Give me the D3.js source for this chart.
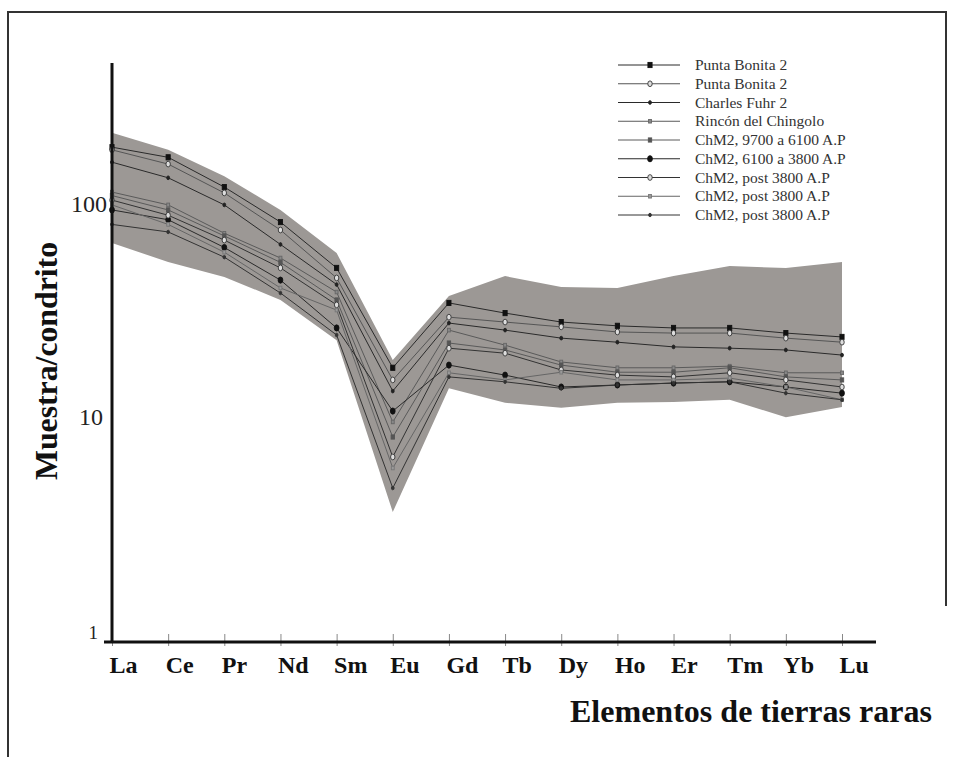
<!DOCTYPE html>
<html>
<head>
<meta charset="utf-8">
<script src="https://cdn.jsdelivr.net/npm/d3@7"></script>
<style>
  html, body { margin: 0; padding: 0; background: #fff; }
  svg { display: block; }
</style>
</head>
<body>
<script>
// ---------- DATA ----------
const elements = ["La","Ce","Pr","Nd","Sm","Eu","Gd","Tb","Dy","Ho","Er","Tm","Yb","Lu"];
const yTickValues = [1, 10, 100];

const seriesNames = [
  "Punta Bonita 2",
  "Punta Bonita 2",
  "Charles Fuhr 2",
  "Rincón del Chingolo",
  "ChM2, 9700 a 6100 A.P",
  "ChM2, 6100 a 3800 A.P",
  "ChM2, post 3800 A.P",
  "ChM2, post 3800 A.P",
  "ChM2, post 3800 A.P"
];

const puntaBonita2a   = [178, 160, 117, 81, 50, 17.5, 34.6, 31.1, 28.3, 27.2, 26.6, 26.6, 25.2, 24.2];
const puntaBonita2b   = [173, 149, 110, 74.5, 45, 15.4, 29.8, 28.3, 26.9, 25.5, 25.2, 25.2, 23.9, 22.9];
const charlesFuhr2    = [152, 129, 97, 64, 42, 13.7, 28.0, 26.0, 23.9, 22.9, 21.8, 21.5, 21.1, 20.0];
const rinconChingolo  = [111, 97, 72, 55.5, 38.8, 9.9, 26.0, 22.2, 18.6, 17.5, 17.5, 17.8, 16.6, 16.6];
const chm2_9700_6100  = [107, 92, 70, 53, 35.7, 8.45, 22.7, 21.1, 18.0, 16.7, 16.7, 17.5, 15.9, 15.4];
const chm2_6100_3800  = [92, 83, 62, 44, 26.6, 11.1, 18.0, 16.2, 14.3, 14.6, 14.9, 15.1, 14.3, 13.4];
const chm2_post3800a  = [102, 87, 67, 50, 33.9, 6.85, 21.5, 20.4, 17.1, 16.2, 15.9, 16.6, 15.4, 14.3];
const chm2_post3800b  = [97, 79, 59, 40.5, 32.1, 6.1, 16.6, 15.4, 16.7, 15.4, 15.4, 15.7, 14.3, 12.5];
const chm2_post3800c  = [79, 73, 56, 38.4, 24.7, 4.94, 15.9, 15.1, 14.1, 14.6, 14.9, 15.1, 13.4, 12.5];

const bandUpper = [207, 173, 131, 92, 58.5, 19.0, 37.2, 45.9, 40.9, 40.5, 45.9, 51, 50, 53.2];
const bandLower = [65, 53.2, 45.5, 35.7, 23.4, 3.84, 14.1, 12.1, 11.5, 12.1, 12.2, 12.5, 10.4, 11.6];

const allSeries = [puntaBonita2a, puntaBonita2b, charlesFuhr2, rinconChingolo, chm2_9700_6100,
                   chm2_6100_3800, chm2_post3800a, chm2_post3800b, chm2_post3800c];

// ---------- STYLES ----------
const styles = [
  {line:"#2a2a2a", marker:"square", fill:"#111", stroke:"#111", r:2.6},
  {line:"#555", marker:"circle", fill:"#ddd", stroke:"#333", r:2.6},
  {line:"#2a2a2a", marker:"circle", fill:"#222", stroke:"#222", r:1.7},
  {line:"#5a5a5a", marker:"square", fill:"#888", stroke:"#666", r:1.8},
  {line:"#5a5a5a", marker:"square", fill:"#555", stroke:"#555", r:2.1},
  {line:"#2a2a2a", marker:"circle", fill:"#111", stroke:"#111", r:2.8},
  {line:"#333", marker:"circle", fill:"#ddd", stroke:"#333", r:2.6},
  {line:"#666", marker:"square", fill:"#999", stroke:"#777", r:1.8},
  {line:"#333", marker:"circle", fill:"#333", stroke:"#333", r:1.6}
];

const W = 954, H = 757;
const serif = "'Liberation Serif','Times New Roman',serif";

const svg = d3.select("body").append("svg").attr("width", W).attr("height", H);
svg.append("rect").attr("width", W).attr("height", H).attr("fill", "#fff");

// frame
svg.append("path").attr("d", `M8,${H} L8,12 L946,12 L946,606`)
  .attr("fill", "none").attr("stroke", "#333").attr("stroke-width", 2);

const x = d3.scalePoint().domain(elements).range([112, 842]).padding(0);
const y = d3.scaleLog().domain([1, 1000]).range([640, -17]);

// band
const bandData = elements.map((e, i) => ({e, lo: bandLower[i], hi: bandUpper[i]}));
svg.append("path")
  .datum(bandData)
  .attr("d", d3.area().x(d => x(d.e)).y0(d => y(d.lo)).y1(d => y(d.hi)))
  .attr("fill", "#9c9895");

// series lines
const lineGen = d3.line().x((d, i) => x(elements[i])).y(d => y(d));
allSeries.forEach((s, k) => {
  svg.append("path").datum(s).attr("d", lineGen)
    .attr("fill", "none").attr("stroke", styles[k].line).attr("stroke-width", 1);
});

function drawMarker(g, cx, cy, st) {
  if (st.marker === "circle") {
    g.append("ellipse").attr("cx", cx).attr("cy", cy).attr("rx", st.r * 0.85).attr("ry", st.r * 1.1)
      .attr("fill", st.fill).attr("stroke", st.stroke).attr("stroke-width", 0.9);
  } else {
    g.append("rect").attr("x", cx - st.r * 0.8).attr("y", cy - st.r).attr("width", st.r * 1.6).attr("height", st.r * 2)
      .attr("fill", st.fill).attr("stroke", st.stroke).attr("stroke-width", 0.9);
  }
}
const mk = svg.append("g");
allSeries.forEach((s, k) => {
  s.forEach((v, i) => drawMarker(mk, x(elements[i]), y(v), styles[k]));
});

// x tick marks
svg.append("g").attr("transform", "translate(0,646)")
  .call(d3.axisTop(x).tickSize(12).tickFormat(""))
  .call(g => g.select(".domain").remove())
  .call(g => g.selectAll("line").attr("stroke", "#888").attr("stroke-width", 1));

// x tick labels
svg.append("g").attr("transform", "translate(0,642)")
  .call(d3.axisBottom(x).tickSize(0))
  .call(g => g.select(".domain").remove())
  .call(g => g.selectAll("text")
    .attr("y", 31).attr("dy", 0).attr("x", -3)
    .attr("text-anchor", "start")
    .attr("fill", "#111")
    .style("font-family", serif).style("font-size", "24px").style("font-weight", "bold"));

// axis lines
svg.append("line").attr("x1", 112).attr("x2", 112).attr("y1", 63).attr("y2", 643)
  .attr("stroke", "#111").attr("stroke-width", 3);
svg.append("line").attr("x1", 104).attr("x2", 876).attr("y1", 642).attr("y2", 642)
  .attr("stroke", "#111").attr("stroke-width", 3);

// y tick labels
const yLabelDx = {1: -14, 10: -9, 100: -5};
const yLabelDy = {1: -8, 10: -5, 100: 1};
const yLabelSize = {1: 19, 10: 24, 100: 24};
svg.append("g").attr("transform", "translate(112,0)")
  .call(d3.axisLeft(y).tickValues(yTickValues).tickSize(0).tickFormat(d3.format("d")))
  .call(g => g.select(".domain").remove())
  .call(g => g.selectAll("text")
    .attr("x", d => yLabelDx[d]).attr("dy", d => (yLabelDy[d] + 0.35 * yLabelSize[d]) + "px")
    .attr("fill", "#222")
    .style("font-family", serif).style("font-size", d => yLabelSize[d] + "px"));

// axis titles
svg.append("text")
  .attr("transform", "translate(57,361) rotate(-90)")
  .attr("text-anchor", "middle")
  .attr("textLength", 238).attr("lengthAdjust", "spacingAndGlyphs")
  .style("font-family", serif).style("font-size", "32px").style("font-weight", "bold")
  .attr("fill", "#111")
  .text("Muestra/condrito");

svg.append("text")
  .attr("x", 570).attr("y", 722)
  .attr("textLength", 362).attr("lengthAdjust", "spacingAndGlyphs")
  .style("font-family", serif).style("font-size", "31px").style("font-weight", "bold")
  .attr("fill", "#111")
  .text("Elementos de tierras raras");

// legend
const leg = svg.append("g");
seriesNames.forEach((name, k) => {
  const ry = 65 + k * 18.75;
  const st = styles[k];
  leg.append("line").attr("x1", 618).attr("x2", 680).attr("y1", ry).attr("y2", ry)
    .attr("stroke", st.line).attr("stroke-width", 1);
  drawMarker(leg, 650, ry, st);
  leg.append("text").attr("x", 695).attr("y", ry + 5)
    .style("font-family", serif).style("font-size", "15.5px")
    .attr("fill", "#333")
    .text(name);
});
</script>
</body>
</html>
